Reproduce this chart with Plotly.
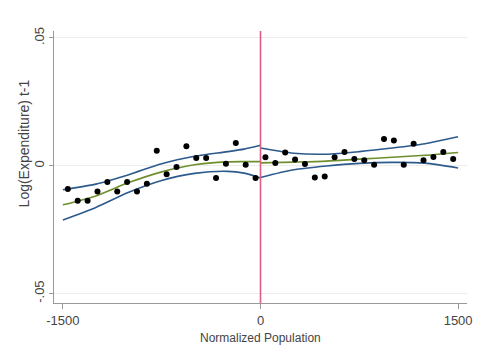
import plotly.graph_objects as go

# Binned scatter points
left_x = [-1462.5, -1387.5, -1312.5, -1237.5, -1162.5, -1087.5, -1012.5, -937.5, -862.5, -787.5,
          -712.5, -637.5, -562.5, -487.5, -412.5, -337.5, -262.5, -187.5, -112.5, -37.5]
left_y = [-0.0091, -0.0137, -0.0137, -0.0101, -0.0064, -0.0101, -0.0064, -0.0101, -0.0071, 0.0059,
          -0.0033, -0.0005, 0.0076, 0.0030, 0.0030, -0.0048, 0.0008, 0.0089, 0.0004, -0.0048]
right_x = [37.5, 112.5, 187.5, 262.5, 337.5, 412.5, 487.5, 562.5, 637.5, 712.5,
           787.5, 862.5, 937.5, 1012.5, 1087.5, 1162.5, 1237.5, 1312.5, 1387.5, 1462.5]
right_y = [0.0033, 0.0011, 0.0052, 0.0024, 0.0007, -0.0046, -0.0042, 0.0033, 0.0054, 0.0026,
           0.0021, 0.0004, 0.0105, 0.0099, 0.0004, 0.0086, 0.0021, 0.0034, 0.0054, 0.0026]

# Fitted lines and confidence bands
fit_left_x = [-1500, -1250, -1000, -750, -500, -250, -125, 0]
fit_left = [-0.0153, -0.0118, -0.0066, -0.0024, 0.0004, 0.0015, 0.0016, 0.0016]
upper_left = [-0.0094, -0.0072, -0.0035, 0.0008, 0.0037, 0.0055, 0.0065, 0.0080]
lower_left = [-0.0212, -0.0163, -0.0104, -0.0058, -0.0030, -0.0022, -0.0029, -0.0048]

fit_right_x = [0, 250, 500, 750, 1000, 1250, 1500]
fit_right = [0.0011, 0.0014, 0.0018, 0.0026, 0.0033, 0.0041, 0.0052]
upper_right = [0.0069, 0.0049, 0.0045, 0.0055, 0.0069, 0.0086, 0.0113]
lower_right = [-0.0046, -0.0016, -0.0001, 0.0009, 0.0013, 0.0010, -0.0009]

x_ticks = [-1500, 0, 1500]
x_tick_text = ["-1500", "0", "1500"]
y_ticks = [-0.05, 0, 0.05]
y_tick_text = ["-.05", "0", ".05"]

BLUE = "#2c5a8c"
GREEN = "#6f8f2c"
RED = "#dd5f86"
TXT = "#444"

fig = go.Figure()

for xs, ys in [(fit_left_x, upper_left), (fit_left_x, lower_left),
               (fit_right_x, upper_right), (fit_right_x, lower_right)]:
    fig.add_trace(go.Scatter(x=xs, y=ys, mode="lines",
                             line=dict(color=BLUE, width=1.6, shape="spline", smoothing=0.7),
                             showlegend=False, hoverinfo="skip"))
for xs, ys in [(fit_left_x, fit_left), (fit_right_x, fit_right)]:
    fig.add_trace(go.Scatter(x=xs, y=ys, mode="lines",
                             line=dict(color=GREEN, width=1.6, shape="spline", smoothing=0.7),
                             showlegend=False, hoverinfo="skip"))

fig.add_trace(go.Scatter(x=left_x + right_x, y=left_y + right_y, mode="markers",
                         marker=dict(color="black", size=6), showlegend=False))

fig.add_shape(type="line", x0=0, x1=0, xref="x", y0=0, y1=1, yref="paper",
              line=dict(color=RED, width=1.6))

fig.add_annotation(text="Log(Expenditure) t-1", xref="paper", yref="paper",
                   x=-0.0718, y=0.588, xanchor="center", yanchor="middle", textangle=-90,
                   showarrow=False, font=dict(size=14, color=TXT))
fig.add_annotation(text="Normalized Population", xref="paper", yref="paper",
                   x=0.5, y=-0.1287, xanchor="center", yanchor="middle",
                   showarrow=False, font=dict(size=12, color=TXT))

fig.update_layout(
    width=482, height=360,
    margin=dict(l=54, r=10, t=31, b=57),
    paper_bgcolor="white", plot_bgcolor="white",
    font=dict(family="Liberation Sans, Arial, sans-serif", size=13, color=TXT),
    xaxis=dict(range=[-1567.5, 1567.5], tickvals=x_ticks, ticktext=x_tick_text,
               showgrid=False, zeroline=False, showline=True, linecolor="#999", linewidth=1,
               ticks="outside", ticklen=5, tickcolor="#999"),
    yaxis=dict(range=[-0.0537, 0.0527], tickvals=y_ticks, ticktext=y_tick_text, tickangle=-90,
               showgrid=True, gridcolor="#ececec", zeroline=False, showline=True, linecolor="#999",
               linewidth=1, ticks="outside", ticklen=4, tickcolor="#999"),
)

fig.write_html("out.html")
